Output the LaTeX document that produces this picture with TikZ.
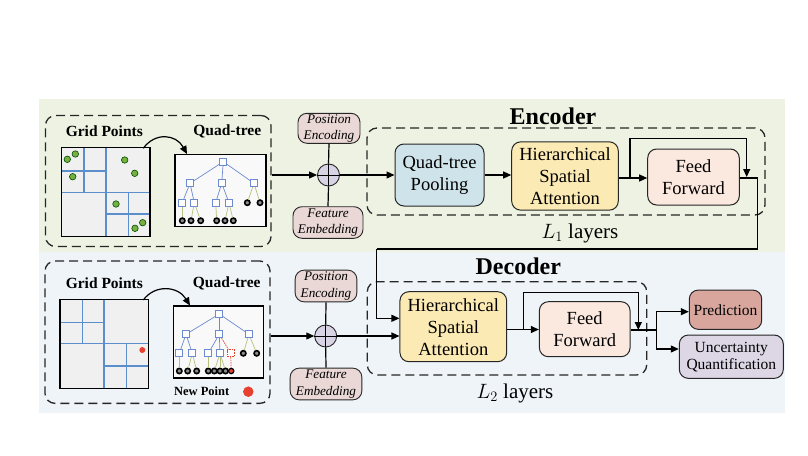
\documentclass[tikz,border=0pt]{standalone}
\usepackage{fontspec}
\setmainfont{Liberation Serif}
\usetikzlibrary{arrows.meta,calc}
\definecolor{bgG}{HTML}{EEF2E3}
\definecolor{bgB}{HTML}{EEF4F8}
\definecolor{gridfill}{HTML}{F0F0F0}
\definecolor{gridline}{HTML}{5B8FCB}
\definecolor{ptgreen}{HTML}{76B041}
\definecolor{treeblue}{HTML}{6C8AD0}
\definecolor{treeolive}{HTML}{B5C27E}
\definecolor{qtpc}{HTML}{CFE4EA}
\definecolor{hsac}{HTML}{FBEAB4}
\definecolor{ffc}{HTML}{FBE8DE}
\definecolor{pec}{HTML}{E9D8D5}
\definecolor{predc}{HTML}{D9A69E}
\definecolor{uqc}{HTML}{DCD6E5}
\definecolor{circc}{HTML}{D9D3E6}
\definecolor{newred}{HTML}{E8402E}
\tikzset{
  blk/.style={draw=black!85, line width=1pt, rounded corners=9pt, align=center,
    font=\fontsize{18.5}{22}\selectfont, inner sep=0pt},
  smallbox/.style={draw=black!85, line width=0.9pt, rounded corners=9pt, align=center,
    font=\itshape\fontsize{13.2}{16.5}\selectfont, inner sep=0pt, fill=pec},
  outbox/.style={draw=black!85, line width=1pt, rounded corners=9pt, align=center,
    font=\fontsize{15.5}{17}\selectfont, inner sep=0pt},
  dbox/.style={draw=black!85, line width=1.3pt, dash pattern=on 9pt off 5pt, rounded corners=10pt, inner sep=0pt},
  arr/.style={-{Triangle[length=8pt,width=7pt]}, line width=1.2pt, draw=black},
  ln/.style={line width=1.2pt, draw=black},
  sq/.style={draw=treeblue, fill=white, line width=0.7pt, minimum size=7pt, inner sep=0pt},
  rsq/.style={draw=newred, fill=white, line width=0.7pt, dashed, dash pattern=on 1.5pt off 1pt, minimum size=7pt, inner sep=0pt},
  lf/.style={circle, draw=black, fill=black!45, line width=1.6pt, minimum size=5.3pt, inner sep=0pt},
  rlf/.style={circle, draw=black, fill=newred, line width=1.2pt, minimum size=5.3pt, inner sep=0pt},
  be/.style={draw=treeblue, line width=0.7pt},
  oe/.style={draw=treeolive, line width=0.7pt},
  re/.style={draw=newred, line width=0.7pt, dashed, dash pattern=on 1.5pt off 1pt},
  gp/.style={circle, draw=black!70!green, fill=ptgreen, line width=0.6pt, minimum size=6.5pt, inner sep=0pt},
  gl/.style={draw=gridline, line width=1.2pt},
  title/.style={font=\bfseries\fontsize{15.5}{18}\selectfont, inner sep=0pt},
  bigtitle/.style={font=\bfseries\fontsize{24}{28}\selectfont, inner sep=0pt},
  plus/.style={circle, draw=black!85, fill=circc, line width=0.9pt, minimum size=22pt, inner sep=0pt},
}
\begin{document}
\begin{tikzpicture}[x=1pt,y=-1pt]
\useasboundingbox (0,0) rectangle (808,455);
% backgrounds
\fill[bgG] (39,99) rectangle (785,252);
\fill[bgB] (39,252) rectangle (785,413);

% ================= UPPER INPUT =================
\node[dbox, minimum width=225.5pt, minimum height=131pt] (ub) at (158.25,181) {};
\node[title] (ugt) at (104.3,131) {Grid Points};
\node[title] (uqt) at (227.3,131.7) {Quad-tree};
\node[draw=black, line width=1.5pt, fill=gridfill, minimum width=88.3pt, minimum height=89pt, inner sep=0pt] (ug) at (105.85,192.2) {};
\draw[gl] (106,147.7) -- (106,236.7);
\draw[gl] (61.7,192.3) -- (150,192.3);
\draw[gl] (84,147.7) -- (84,192.3);
\draw[gl] (61.7,171) -- (106,171);
\draw[gl] (128.3,192.3) -- (128.3,236.7);
\draw[gl] (106,214) -- (150,214);
\draw[draw=black, line width=1.5pt] (61.7,147.7) rectangle (150,236.7);
\node[gp] (p1) at (67.3,159.3) {};
\node[gp] (p2) at (75.3,154) {};
\node[gp] (p3) at (72.7,176.7) {};
\node[gp] (p4) at (124.7,160) {};
\node[gp] (p5) at (134.7,173.3) {};
\node[gp] (p6) at (116,204) {};
\node[gp] (p7) at (135,228.3) {};
\node[gp] (p8) at (142.7,222.7) {};
% tree box
\node[draw=black, line width=1.5pt, fill=white!60!gridfill, minimum width=91pt, minimum height=72.4pt, inner sep=0pt] (ut) at (220.5,190.5) {};
\node[sq] (ur) at (223.3,161.7) {};
\node[sq] (ua) at (190,183.3) {};
\node[sq] (ubn) at (221.7,183.3) {};
\node[sq] (uc) at (254,183.3) {};
\node[sq] (uaa) at (182.3,202.7) {};
\node[sq] (uab) at (194.3,202.7) {};
\node[sq] (uba) at (215.7,202.7) {};
\node[sq] (ubb) at (229,202.7) {};
\node[lf] (uca) at (247.3,202.7) {};
\node[lf] (ucb) at (260,202.7) {};
\node[lf] (ul1) at (182.3,220.7) {};
\node[lf] (ul2) at (191,220.7) {};
\node[lf] (ul3) at (200.7,220.7) {};
\node[lf] (ul4) at (216.7,220.7) {};
\node[lf] (ul5) at (225,220.7) {};
\node[lf] (ul6) at (233.3,220.7) {};
\draw[be] (ur) -- (ua); \draw[be] (ur) -- (ubn); \draw[be] (ur) -- (uc);
\draw[be] (ua) -- (uaa); \draw[be] (ua) -- (uab);
\draw[be] (ubn) -- (uba); \draw[be] (ubn) -- (ubb);
\draw[oe] (uc) -- (uca); \draw[oe] (uc) -- (ucb);
\draw[oe] (uaa) -- (ul1); \draw[oe] (uab) -- (ul2); \draw[oe] (uab) -- (ul3);
\draw[oe] (uba) -- (ul4); \draw[oe] (ubb) -- (ul5); \draw[oe] (ubb) -- (ul6);
\coordinate (uc1) at (143.3,148.3);
\coordinate (uc2) at (187,154);
\draw[arr] (uc1) .. controls (155,132) and (176,134) .. (uc2);

% ================= LOWER INPUT =================
\node[dbox, minimum width=225pt, minimum height=142.3pt] (lb) at (157.5,332.2) {};
\node[title] (lgt) at (104.3,283.3) {Grid Points};
\node[title] (lqt) at (226.7,283.3) {Quad-tree};
\node[draw=black, line width=1.5pt, fill=gridfill, minimum width=88.3pt, minimum height=89pt, inner sep=0pt] (lg) at (104.15,343.8) {};
\draw[gl] (104,299.3) -- (104,388.3);
\draw[gl] (60,343.3) -- (148.3,343.3);
\draw[gl] (82.3,299.3) -- (82.3,343.3);
\draw[gl] (60,322.7) -- (104,322.7);
\draw[gl] (126.7,343.3) -- (126.7,388.3);
\draw[gl] (104,366) -- (148.3,366);
\draw[draw=black, line width=1.5pt] (60,299.3) rectangle (148.3,388.3);
\node[circle, fill=newred, minimum size=6pt, inner sep=0pt] (lp) at (142.3,350) {};
\node[draw=black, line width=1.5pt, fill=white!60!gridfill, minimum width=90pt, minimum height=72pt, inner sep=0pt] (lt) at (218.3,342) {};
\node[sq] (dr) at (219.3,314) {};
\node[sq] (da) at (186,334.3) {};
\node[sq] (db) at (219.3,334.3) {};
\node[sq] (dc) at (249,334.3) {};
\node[sq] (daa) at (179.3,353.3) {};
\node[sq] (dab) at (192.3,353.3) {};
\node[sq] (dba) at (208.3,353.3) {};
\node[sq] (dbb) at (220,353.3) {};
\node[rsq] (dbc) at (230.7,353.3) {};
\node[lf] (dca) at (243.3,353.3) {};
\node[lf] (dcb) at (256.7,353.3) {};
\node[lf] (m1) at (179.3,371) {};
\node[lf] (m2) at (187.7,371) {};
\node[lf] (m3) at (196.7,371) {};
\node[lf] (m4) at (208.3,371) {};
\node[lf] (m5) at (214.3,371) {};
\node[lf] (m6) at (220,371) {};
\node[lf] (m7) at (225.5,371) {};
\node[rlf] (m8) at (231.2,371) {};
\draw[be] (dr) -- (da); \draw[be] (dr) -- (db); \draw[be] (dr) -- (dc);
\draw[be] (da) -- (daa); \draw[be] (da) -- (dab);
\draw[be] (db) -- (dba); \draw[be] (db) -- (dbb); \draw[re] (db) -- (dbc);
\draw[oe] (dc) -- (dca); \draw[oe] (dc) -- (dcb);
\draw[oe] (daa) -- (m1); \draw[oe] (dab) -- (m2); \draw[oe] (dab) -- (m3);
\draw[oe] (dba) -- (m4); \draw[oe] (dbb) -- (m5); \draw[oe] (dbb) -- (m6); \draw[oe] (dbb) -- (m7);
\draw[re] (dbc) -- (m8);
\node[font=\bfseries\fontsize{12.5}{14}\selectfont, inner sep=0pt] (np) at (201.7,391.7) {New Point};
\node[circle, fill=newred, minimum size=10.5pt, inner sep=0pt] (npc) at (248.3,391.7) {};
\coordinate (lc1) at (143.3,300);
\coordinate (lc2) at (190,305.5);
\draw[arr] (lc1) .. controls (155,284) and (178,286) .. (lc2);

% ================= ENCODER =================
\node[dbox, minimum width=398pt, minimum height=87pt] (encb) at (566,171.5) {};
\node[bigtitle] (enct) at (553,116.7) {Encoder};
\node[smallbox, minimum width=62pt, minimum height=30pt] (pe1) at (329,128.3) {Position\\Encoding};
\node[smallbox, minimum width=70pt, minimum height=31.6pt] (fe1) at (328,222.5) {Feature\\Embedding};
\node[plus] (c1) at (328.5,175) {};
\draw[ln] (pe1.south) -- (c1.north);
\draw[ln] (fe1.north) -- (c1.south);
\draw[line width=0.9pt] (c1.north) -- (c1.south) (c1.west) -- (c1.east);
\node[blk, fill=qtpc, minimum width=89pt, minimum height=62pt] (qtp) at (439.5,175) {Quad-tree\\Pooling};
\node[blk, fill=hsac, minimum width=106.6pt, minimum height=68.3pt] (hsa1) at (565,176) {Hierarchical\\Spatial\\Attention};
\node[blk, fill=ffc, minimum width=91.6pt, minimum height=56pt] (ff1) at (693.5,177) {Feed\\Forward};
\node[font=\fontsize{21}{24}\selectfont, inner sep=0pt] (l1) at (580,233.3) {$L_1$\ layers};
\draw[arr] (ub.east |- c1) -- (c1.west);
\draw[arr] (c1.east) -- (qtp.west |- c1);
\draw[arr] (qtp.east |- c1) -- (hsa1.west |- c1);
\coordinate (eb) at (630,178);
\coordinate (et) at (746.7,138.3);
\coordinate (ej) at (746.7,177);
\draw[arr] (hsa1.east |- eb) -- (ff1.west |- eb);
\draw[arr] (eb) |- (et) -- (ej);
\coordinate (eo) at (757.3,178);
\coordinate (dl) at (376.7,249);
\coordinate (din1) at (400,318.3);
\draw[ln] (ff1.east |- eo) -- (eo) |- (dl);

% ================= DECODER =================
\node[dbox, minimum width=279.4pt, minimum height=93.3pt] (decb) at (507,328.3) {};
\node[bigtitle] (dect) at (518.3,266.7) {Decoder};
\node[smallbox, minimum width=61.7pt, minimum height=31.7pt] (pe2) at (326,286) {Position\\Encoding};
\node[smallbox, minimum width=71.7pt, minimum height=31.7pt] (fe2) at (326,384) {Feature\\Embedding};
\node[plus] (c2) at (325.7,336) {};
\draw[ln] (pe2.south) -- (c2.north);
\draw[ln] (fe2.north) -- (c2.south);
\draw[line width=0.9pt] (c2.north) -- (c2.south) (c2.west) -- (c2.east);
\node[blk, fill=hsac, minimum width=106.7pt, minimum height=70pt] (hsa2) at (453.3,326.7) {Hierarchical\\Spatial\\Attention};
\node[blk, fill=ffc, minimum width=90.7pt, minimum height=55pt] (ff2) at (584.7,329.2) {Feed\\Forward};
\node[outbox, fill=predc, minimum width=72.4pt, minimum height=39.3pt] (pred) at (725.5,309.7) {Prediction};
\node[outbox, fill=uqc, minimum width=104pt, minimum height=43.3pt] (uq) at (731.3,356.7) {Uncertainty\\Quantification};
\node[font=\fontsize{21}{24}\selectfont, inner sep=0pt] (l2) at (515,393.3) {$L_2$\ layers};
\draw[arr] (dl) |- (hsa2.west |- din1);
\draw[arr] (lb.east |- c2) -- (c2.west);
\draw[arr] (c2.east) -- (hsa2.west |- c2);
\coordinate (db2) at (523.3,329.5);
\coordinate (dt2) at (638.3,292.7);
\coordinate (dj2) at (638.3,330);
\draw[arr] (hsa2.east |- db2) -- (ff2.west |- db2);
\draw[arr] (db2) |- (dt2) -- (dj2);
\coordinate (do2) at (656.7,330);
\draw[ln] (ff2.east |- do2) -- (do2);
\draw[arr] (do2) |- (pred.west |- 0,311.7);
\draw[arr] (do2) |- (uq.west |- 0,349);
\end{tikzpicture}
\end{document}
